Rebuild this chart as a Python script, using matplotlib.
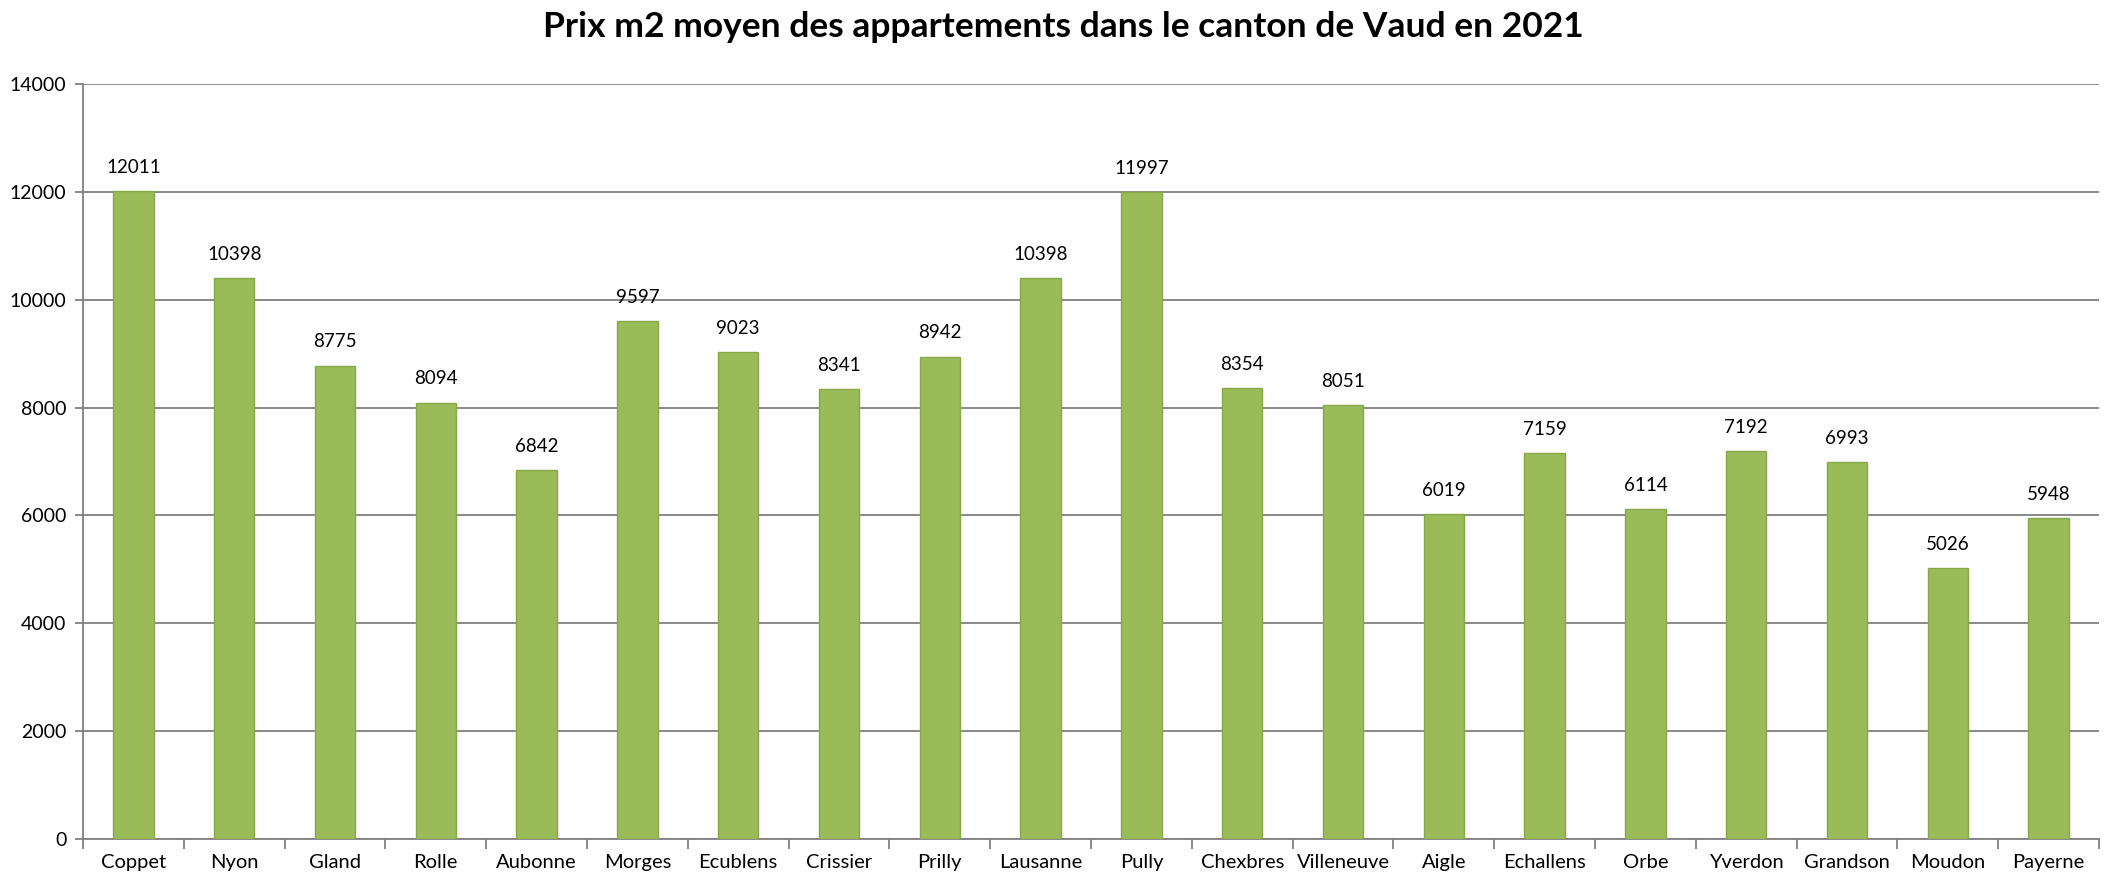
import numpy as np
import matplotlib.pyplot as plt

plt.rcParams['font.family'] = ['Lato', 'DejaVu Sans']

# communes et prix moyen au m2
communes = ['Coppet', 'Nyon', 'Gland', 'Rolle', 'Aubonne', 'Morges', 'Ecublens',
            'Crissier', 'Prilly', 'Lausanne', 'Pully', 'Chexbres', 'Villeneuve',
            'Aigle', 'Echallens', 'Orbe', 'Yverdon', 'Grandson', 'Moudon', 'Payerne']
prix = [12011, 10398, 8775, 8094, 6842, 9597, 9023, 8341, 8942, 10398,
        11997, 8354, 8051, 6019, 7159, 6114, 7192, 6993, 5026, 5948]
yticks = [0, 2000, 4000, 6000, 8000, 10000, 12000, 14000]

fig = plt.figure(figsize=(21.26, 8.94), dpi=100)
ax = fig.add_axes([83 / 2126, 1 - 839 / 894, (2099 - 83) / 2126, (839 - 84) / 894])

x = np.arange(len(communes))
bars = ax.bar(x, prix, width=0.4, color='#9bbb59', edgecolor='#86a846', linewidth=1, zorder=3)

for xi, v in zip(x, prix):
    ax.annotate(str(v), (xi, v), xytext=(0, 11), textcoords='offset points',
                ha='center', va='bottom', fontsize=13.5)

ax.set_xlim(-0.5, len(communes) - 0.5)
ax.set_ylim(0, 14000)
ax.set_yticks(yticks)
ax.set_yticklabels([str(t) for t in yticks], fontsize=14)
ax.yaxis.grid(True, color='#808080', linewidth=1.3, zorder=0)

ax.set_xticks(x)
ax.set_xticklabels(communes, fontsize=14.5)
ax.tick_params(axis='x', length=0, pad=11)
ax.set_xticks(np.arange(len(communes) + 1) - 0.5, minor=True)
ax.tick_params(axis='x', which='minor', length=7, color='#808080', width=1.3)
ax.tick_params(axis='y', length=6, color='#808080', width=1.3, pad=6)

for s in ['top', 'right']:
    ax.spines[s].set_visible(False)
for s in ['left', 'bottom']:
    ax.spines[s].set_color('#808080')
    ax.spines[s].set_linewidth(1.3)

fig.suptitle('Prix m2 moyen des appartements dans le canton de Vaud en 2021',
             x=0.5, y=0.988, fontsize=25.5, fontweight='bold')

fig.savefig('out.png', dpi=100, facecolor='white')
